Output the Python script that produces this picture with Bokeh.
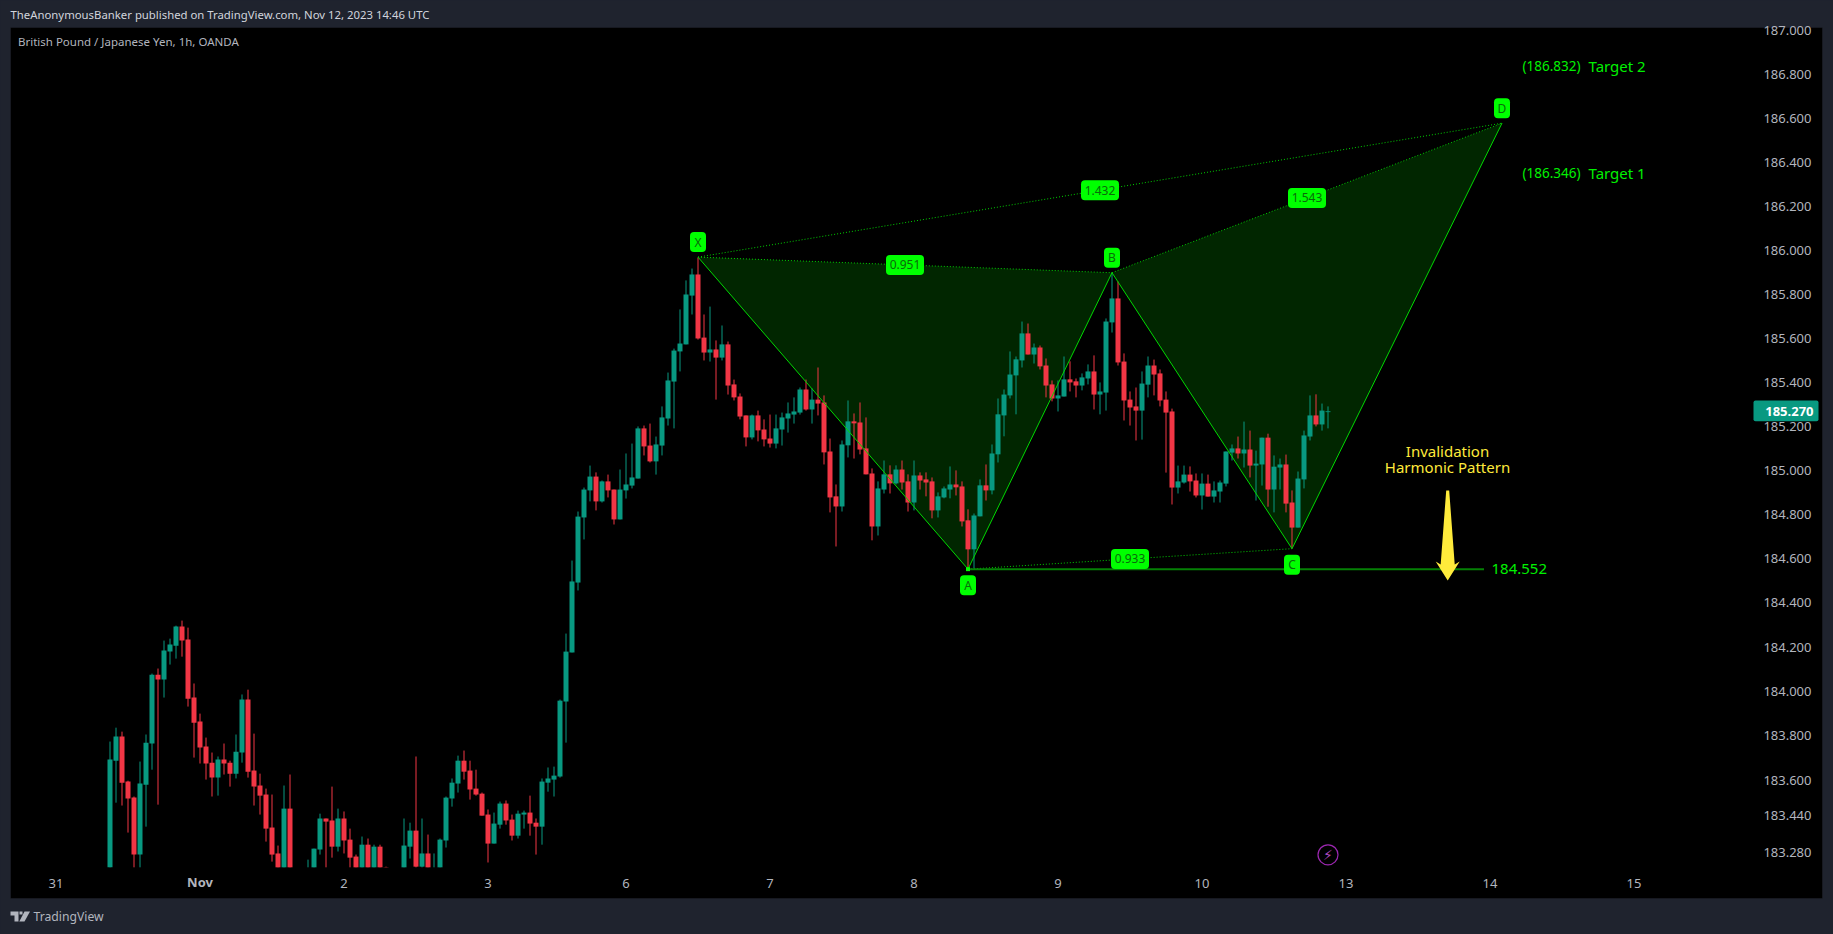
import numpy as np
from bokeh.embed import file_html
from bokeh.resources import INLINE
from bokeh.plotting import figure
from bokeh.models import ColumnDataSource, Range1d, LinearAxis, FixedTicker, BoxAnnotation, Label
from bokeh.core.properties import value

nan = float("nan")

opens = [183.196,183.681,183.791,183.586,183.513,183.254,183.572,183.759,184.072,184.050,
 184.177,184.204,184.291,184.232,183.968,183.859,183.745,183.672,183.604,183.686,
 183.672,183.622,183.718,183.959,183.636,183.568,183.527,183.377,183.259,183.196,
 183.463,nan,nan,183.196,183.196,183.277,183.418,183.409,183.290,183.418,
 183.322,183.245,183.196,183.299,183.196,183.290,183.197,nan,nan,183.196,
 183.290,183.363,183.199,183.259,183.196,183.196,183.318,183.509,183.577,183.681,
 183.636,183.554,183.531,183.436,183.304,183.390,183.486,183.413,183.340,183.436,
 183.445,183.399,183.381,183.581,183.595,183.609,183.950,184.173,184.491,184.787,
 184.910,184.973,184.860,184.951,184.914,184.778,184.910,184.932,184.964,185.192,
 185.114,185.042,185.114,185.237,185.405,185.542,185.574,185.796,185.892,185.605,
 185.537,185.551,185.514,185.574,185.392,185.337,185.251,185.151,185.251,185.187,
 185.146,185.123,185.187,185.237,185.255,185.264,185.369,185.278,185.323,185.310,
 185.087,184.883,184.837,185.115,185.224,185.219,185.101,184.987,184.746,184.914,
 184.983,184.942,185.005,184.951,184.855,184.978,184.960,184.951,184.819,184.878,
 184.914,184.937,184.928,184.774,184.642,184.792,184.933,184.910,185.074,185.251,
 185.342,185.433,185.501,185.624,185.528,185.560,185.478,185.392,185.328,185.337,
 185.415,185.406,185.387,185.419,185.451,185.346,185.355,185.674,185.783,185.496,
 185.323,185.292,185.273,185.391,185.478,185.442,185.323,185.269,184.923,184.946,
 184.982,184.955,184.887,184.941,184.882,184.905,184.941,185.082,185.101,185.078,
 185.096,185.023,185.028,185.150,184.914,185.014,185.028,184.855,184.741,184.960,
 185.155,185.251,185.210,185.266]
highs = [183.768,183.831,183.813,183.590,183.518,183.677,183.800,184.077,184.100,184.227,
 184.236,184.295,184.318,184.286,184.032,183.895,183.786,183.718,183.700,183.759,
 183.681,183.800,183.982,184.004,183.804,183.622,183.554,183.527,183.295,183.568,
 183.618,nan,nan,183.231,183.281,183.440,183.418,183.563,183.463,183.450,
 183.372,183.254,183.336,183.327,183.299,183.299,183.199,nan,nan,183.418,
 183.399,183.700,183.418,183.345,183.259,183.327,183.518,183.600,183.704,183.727,
 183.681,183.640,183.536,183.459,183.445,183.495,183.500,183.436,183.454,183.454,
 183.522,183.418,183.600,183.650,183.654,183.959,184.259,184.591,184.814,184.923,
 185.023,184.992,184.955,184.982,184.914,185.005,185.078,185.123,185.201,185.205,
 185.214,185.155,185.292,185.446,185.555,185.733,185.865,185.919,185.969,185.710,
 185.746,185.592,185.660,185.587,185.414,185.351,185.251,185.255,185.273,185.233,
 185.255,185.255,185.264,185.310,185.333,185.378,185.414,185.374,185.469,185.342,
 185.146,184.937,185.137,185.319,185.260,185.310,185.242,185.010,184.951,185.046,
 185.024,185.024,185.046,184.983,185.046,184.992,184.992,184.969,184.901,184.928,
 185.019,185.001,184.951,184.824,184.805,184.960,185.028,185.119,185.328,185.369,
 185.542,185.519,185.678,185.669,185.578,185.569,185.510,185.410,185.410,185.519,
 185.497,185.419,185.442,185.483,185.524,185.401,185.692,185.901,185.860,185.533,
 185.360,185.378,185.451,185.519,185.505,185.460,185.360,185.282,185.023,185.023,
 185.019,184.987,184.987,184.982,184.951,184.955,185.087,185.119,185.155,185.223,
 185.182,185.091,185.150,185.168,185.069,185.055,185.073,184.910,184.996,185.182,
 185.342,185.347,185.305,185.292]
lows = [183.196,183.490,183.477,183.354,183.196,183.196,183.381,183.640,183.481,183.968,
 184.118,184.145,184.154,183.927,183.695,183.668,183.595,183.518,183.522,183.618,
 183.563,183.600,183.672,183.604,183.477,183.436,183.313,183.222,183.196,183.196,
 183.196,nan,nan,183.196,183.196,183.254,183.196,183.240,183.268,183.259,
 183.196,183.196,183.196,183.196,183.196,183.196,183.196,nan,nan,183.196,
 183.236,183.196,183.196,183.196,183.196,183.196,183.286,183.472,183.536,183.595,
 183.504,183.522,183.431,183.218,183.304,183.372,183.390,183.318,183.327,183.372,
 183.340,183.254,183.299,183.540,183.518,183.604,183.763,184.173,184.455,184.687,
 184.860,184.819,184.855,184.878,184.755,184.778,184.873,184.919,184.964,185.069,
 185.037,184.982,185.069,185.205,185.192,185.451,185.574,185.710,185.596,185.501,
 185.496,185.323,185.501,185.346,185.319,185.233,185.110,185.142,185.133,185.110,
 185.105,185.101,185.114,185.173,185.214,185.255,185.273,185.214,185.251,185.028,
 184.810,184.655,184.814,185.060,185.055,185.074,184.983,184.683,184.705,184.896,
 184.896,184.937,184.914,184.814,184.819,184.914,184.883,184.783,184.787,184.874,
 184.874,184.887,184.746,184.555,184.555,184.792,184.864,184.892,185.037,185.156,
 185.328,185.256,185.469,185.528,185.487,185.460,185.333,185.315,185.269,185.337,
 185.360,185.333,185.365,185.392,185.278,185.256,185.273,185.628,185.478,185.228,
 185.205,185.137,185.141,185.333,185.342,185.292,184.991,184.846,184.896,184.941,
 184.905,184.878,184.823,184.882,184.855,184.855,184.928,185.046,185.055,185.014,
 184.969,184.864,184.932,184.836,184.810,184.914,184.810,184.646,184.741,184.919,
 185.137,185.201,185.182,185.192]
closes = [183.686,183.791,183.581,183.509,183.254,183.577,183.763,184.072,184.050,184.182,
 184.209,184.291,184.227,183.963,183.854,183.741,183.668,183.604,183.686,183.668,
 183.622,183.722,183.959,183.631,183.563,183.522,183.372,183.254,183.196,183.463,
 183.196,nan,nan,183.196,183.281,183.418,183.404,183.290,183.418,183.318,
 183.240,183.196,183.299,183.196,183.290,183.196,183.196,nan,nan,183.295,
 183.363,183.199,183.259,183.196,183.196,183.322,183.513,183.581,183.681,183.631,
 183.550,183.527,183.431,183.304,183.395,183.486,183.409,183.340,183.440,183.445,
 183.395,183.381,183.586,183.600,183.613,183.954,184.177,184.496,184.791,184.914,
 184.973,184.860,184.951,184.910,184.778,184.914,184.937,184.969,185.192,185.110,
 185.042,185.119,185.242,185.410,185.546,185.578,185.801,185.892,185.601,185.537,
 185.551,185.514,185.574,185.387,185.333,185.246,185.151,185.251,185.183,185.142,
 185.123,185.192,185.242,185.260,185.269,185.369,185.278,185.323,185.305,185.083,
 184.878,184.837,185.119,185.224,185.215,185.096,184.983,184.746,184.919,184.983,
 184.942,185.005,184.946,184.855,184.978,184.955,184.946,184.819,184.883,184.919,
 184.937,184.924,184.769,184.642,184.796,184.933,184.910,185.078,185.256,185.346,
 185.437,185.506,185.624,185.528,185.560,185.474,185.387,185.328,185.342,185.415,
 185.401,185.387,185.424,185.451,185.346,185.360,185.678,185.783,185.492,185.319,
 185.287,185.273,185.396,185.478,185.437,185.319,185.264,184.923,184.951,184.982,
 184.951,184.887,184.941,184.882,184.910,184.946,185.087,185.101,185.078,185.096,
 185.023,185.032,185.150,184.914,185.018,185.028,184.850,184.741,184.964,185.160,
 185.251,185.210,185.273,185.270]

# harmonic pattern points X A B C D (bar number, price)
pattern_names = ["X", "A", "B", "C", "D"]
pattern_bars = [98, 143, 167, 197, 232]
pattern_prices = [185.971, 184.552, 185.900, 184.645, 186.580]
ratio_labels = ["0.951", "1.432", "1.543", "0.933"]
invalidation_price = 184.552
invalidation_end_bar = 229
last_price = 185.270

day_ticks = [-9, 39, 63, 86, 110, 134, 158, 182, 206, 230, 254]
day_labels = ["31", "2", "3", "6", "7", "8", "9", "10", "13", "14", "15"]
month_tick = 15
price_ticks = [187.0, 186.8, 186.6, 186.4, 186.2, 186.0, 185.8, 185.6, 185.4, 185.2, 185.0,
               184.8, 184.6, 184.4, 184.195, 183.995, 183.795, 183.59, 183.43, 183.263]
price_labels = ["187.000", "186.800", "186.600", "186.400", "186.200", "186.000", "185.800",
                "185.600", "185.400", "185.200", "185.000", "184.800", "184.600", "184.400",
                "184.200", "184.000", "183.800", "183.600", "183.440", "183.280"]

arrow_bars = [222.7, 221.78, 220.95, 222.95, 224.95, 224.12, 223.2]
arrow_prices = [184.910, 184.573, 184.587, 184.500, 184.587, 184.573, 184.910]

BG = "#1f232e"
UP = "#089981"
DOWN = "#f23645"
LIME = "#00ff00"
FILL = "#012600"
YEL = "#ffeb3b"
AX = "#b2b5be"
FONT = "Noto Sans"

W, H = 1833, 934
PX_PER_BAR = 6.0
PX_PER_PRICE = 219.9
X0 = -109.5 / PX_PER_BAR
Y_TOP = 187.1379
def bx(px):  # page pixel to bar number
    return X0 + px / PX_PER_BAR
def py_(py):  # page pixel to price
    return Y_TOP - py / PX_PER_PRICE

p = figure(width=W, height=H, output_backend="svg", toolbar_location=None,
           x_axis_type=None, y_axis_type=None,
           x_range=Range1d(bx(0), bx(W)), y_range=Range1d(py_(H), py_(0)),
           min_border_left=0, min_border_right=0, min_border_top=0, min_border_bottom=0,
           background_fill_color=BG, border_fill_color=BG, outline_line_color=None)

p.add_layout(BoxAnnotation(left=bx(10), right=bx(1822), top=py_(27), bottom=py_(898),
                           fill_color="#000000", fill_alpha=1, line_color="#2a2e39", line_width=1,
                           level="underlay"))

o = np.array(opens); h = np.array(highs); l = np.array(lows); c = np.array(closes)
bars = np.arange(len(o))
valid = ~np.isnan(o)
up = valid & (c >= o)
dn = valid & (c < o)

# pattern fills
px = pattern_bars; py = pattern_prices
p.patch([px[0], px[1], px[2]], [py[0], py[1], py[2]], fill_color=FILL, line_color=None)
p.patch([px[2], px[3], px[4]], [py[2], py[3], py[4]], fill_color=FILL, line_color=None)

for mask, col in ((up, UP), (dn, DOWN)):
    src = ColumnDataSource(dict(x=bars[mask], top=np.maximum(o, c)[mask], bottom=np.minimum(o, c)[mask],
                                high=h[mask], low=l[mask]))
    p.segment("x", "high", "x", "low", source=src, line_color=col, line_width=1)
    p.vbar(x="x", top="top", bottom="bottom", width=5/6, source=src, fill_color=col, line_color=None)

# pattern lines
p.line(px, py, line_color="#00d800", line_width=1)
SEGS = ((0, 2), (0, 4), (2, 4), (1, 3))
for a, b in SEGS:
    p.line([px[a], px[b]], [py[a], py[b]], line_color="#00d000", line_width=1, line_dash="1 2")
p.line([px[1], invalidation_end_bar], [invalidation_price, invalidation_price],
       line_color="#058005", line_width=2)
p.scatter([px[1]], [py[1]], marker="square", size=4, fill_color=LIME, line_color=None)

p.patch(arrow_bars, arrow_prices, fill_color=YEL, line_color=None)

# lightning icon
p.scatter([203], [183.253], marker="circle", size=20, fill_color=None, line_color="#9c27b0", line_width=1.2)
p.text([203], [183.253], text=["\u26a1"], text_font=value("DejaVu Sans"), text_font_size="14px",
       text_color="#ab47bc", text_align="center", text_baseline="middle")

# axes drawn inside the pane
common = dict(axis_line_color=None, major_tick_line_color=None, major_tick_in=0, major_tick_out=0,
              major_label_standoff=0, major_label_text_color=AX, major_label_text_font=FONT,
              major_label_text_font_size="13px")
yax = LinearAxis(ticker=FixedTicker(ticks=price_ticks), fixed_location=bx(1811),
                 major_label_overrides=dict(zip(price_ticks, price_labels)), **common)
p.add_layout(yax, "left")
xax = LinearAxis(ticker=FixedTicker(ticks=day_ticks), fixed_location=py_(878.5),
                 major_label_overrides=dict(zip(day_ticks, day_labels)), **common)
p.add_layout(xax, "below")
mon = LinearAxis(ticker=FixedTicker(ticks=[month_tick]), fixed_location=py_(872.6),
                 major_label_overrides={month_tick: "Nov"}, major_label_text_font_style="bold", **common)
p.add_layout(mon, "below")

# pattern point and ratio badges
BADGE_TXT = "#0a6a0a"
def badge(x, y, text, w, yoff=0):
    cy = y + yoff / PX_PER_PRICE
    p.quad(left=[x - w / 2 / PX_PER_BAR], right=[x + w / 2 / PX_PER_BAR],
           top=[cy + 10 / PX_PER_PRICE], bottom=[cy - 10 / PX_PER_PRICE],
           fill_color=LIME, line_color=None, border_radius=4)
    p.text([x], [cy], text=[text], text_align="center", text_baseline="middle",
           text_font=value(FONT), text_font_size="12px", text_color=BADGE_TXT)

for name, x, y, off in zip(pattern_names, px, py, (15, -16, 15, -16, 15)):
    badge(x, y, name, 16, off)
for (a, b), t in zip(SEGS, ratio_labels):
    badge((px[a] + px[b]) / 2, (py[a] + py[b]) / 2, t, 38)

def txt(x, y, text, color, size, align="left", style="normal", dy=-1.5):
    p.text([x], [y], text=[text], text_align=align, text_baseline="middle", text_color=color,
           text_font=value(FONT), text_font_size=size, text_font_style=style, y_offset=dy)

G = "#00f000"
txt(bx(1522), 186.832, "(186.832)", G, "13.5px")
txt(bx(1588), 186.832, "Target 2", G, "15px")
txt(bx(1522), 186.346, "(186.346)", G, "13.5px")
txt(bx(1588), 186.346, "Target 1", G, "15px")
txt(bx(1491), invalidation_price, "184.552", G, "15px", dy=0)
txt(bx(1447), py_(451.7), "Invalidation", YEL, "15px", align="center")
txt(bx(1447), py_(467.7), "Harmonic Pattern", YEL, "15px", align="center")

p.add_layout(BoxAnnotation(left=bx(1753), right=bx(1818), top=py_(400), bottom=py_(420.7),
                           fill_color=UP, fill_alpha=1, line_color=None, border_radius=2))
p.add_layout(Label(x=bx(1813), y=last_price, text="185.270", text_align="right", text_baseline="middle",
                   text_color="#ffffff", text_font=FONT, text_font_size="13px", text_font_style="bold"))

# header / footer
txt(bx(10), py_(15), "TheAnonymousBanker published on TradingView.com, Nov 12, 2023 14:46 UTC", "#d1d4dc", "11.35px")
txt(bx(17.5), py_(42), "British Pound / Japanese Yen, 1h, OANDA", AX, "11.5px")
txt(bx(33), py_(916), "TradingView", AX, "12.2px", dy=0)

LOGO = [
    ([10, 18, 18, 14, 14, 10], [911, 911, 921, 921, 915, 915]),
    ([24, 29.5, 24, 18.8], [911, 911, 921, 921]),
    ([19, 22, 22, 19], [911, 911, 914, 914]),
]
for xs, ys in LOGO:
    p.patch([bx(v) for v in xs], [py_(v) for v in ys], fill_color=AX, line_color=None)

html = file_html(p, INLINE)
html = html.replace("<head>", "<head><style>html,body{background:%s;overflow:hidden}</style>" % BG, 1)
open("out.html", "w").write(html)
